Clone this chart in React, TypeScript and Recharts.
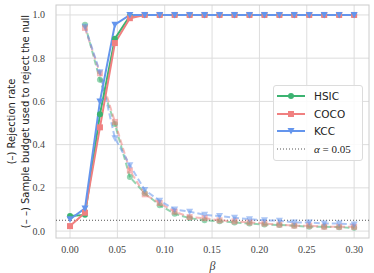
import {
  LineChart, Line, XAxis, YAxis, CartesianGrid, ReferenceLine, Label,
} from 'recharts';

const betas = [0, 0.0158, 0.0316, 0.0474, 0.0632, 0.0789, 0.0947, 0.1105, 0.1263, 0.1421,
  0.1579, 0.1737, 0.1895, 0.2053, 0.2211, 0.2368, 0.2526, 0.2684, 0.2842, 0.3];

// solid: rejection rate
const hsicRate = [0.07, 0.075, 0.54, 0.89, 0.995, 1, 1, 1, 1, 1, 1, 1, 1, 1, 1, 1, 1, 1, 1, 1];
const cocoRate = [0.023, 0.085, 0.48, 0.87, 0.985, 1, 1, 1, 1, 1, 1, 1, 1, 1, 1, 1, 1, 1, 1, 1];
const kccRate = [0.055, 0.105, 0.6, 0.955, 1, 1, 1, 1, 1, 1, 1, 1, 1, 1, 1, 1, 1, 1, 1, 1];

// dashed: sample budget used
const hsicBudget = [null, 0.955, 0.7, 0.495, 0.25, 0.175, 0.12, 0.08, 0.06, 0.05, 0.045, 0.04,
  0.035, 0.03, 0.028, 0.025, 0.02, 0.02, 0.018, 0.015];
const cocoBudget = [null, 0.94, 0.73, 0.505, 0.28, 0.17, 0.13, 0.09, 0.065, 0.06, 0.05, 0.045,
  0.04, 0.035, 0.03, 0.025, 0.025, 0.02, 0.02, 0.02];
const kccBudget = [null, 0.945, 0.735, 0.43, 0.305, 0.19, 0.14, 0.1, 0.09, 0.075, 0.07, 0.062,
  0.055, 0.05, 0.048, 0.04, 0.04, 0.035, 0.035, 0.03];

const xTicks = [0, 0.05, 0.1, 0.15, 0.2, 0.25, 0.3];
const yTicks = [0, 0.2, 0.4, 0.6, 0.8, 1.0];

const data = betas.map((x, i) => ({
  x,
  hsicR: hsicRate[i], cocoR: cocoRate[i], kccR: kccRate[i],
  hsicB: hsicBudget[i], cocoB: cocoBudget[i], kccB: kccBudget[i],
}));

const GREEN = '#3cb371';
const RED = '#f08080';
const BLUE = '#6495ed';

type Shape = 'circle' | 'square' | 'tri';

function marker(shape: Shape, cx: number, cy: number, color: string, opacity = 1, key?: string) {
  if (shape === 'circle') return <circle key={key} cx={cx} cy={cy} r={3} fill={color} fillOpacity={opacity} />;
  if (shape === 'square') return <rect key={key} x={cx - 3} y={cy - 3} width={6} height={6} fill={color} fillOpacity={opacity} />;
  return (
    <path key={key} d={`M${cx - 3.5},${cy - 3} L${cx + 3.5},${cy - 3} L${cx},${cy + 3.5} Z`} fill={color} fillOpacity={opacity} />
  );
}

const makeDot = (shape: Shape, color: string, opacity = 1) => (p: any) => {
  if (p.value == null || p.cx == null) return <g key={p.key} />;
  return marker(shape, p.cx, p.cy, color, opacity, p.key);
};

const serif = 'Liberation Serif, DejaVu Serif, serif';
const tickStyle = { fill: '#444', fontSize: 10, fontFamily: serif };

const series = [
  { key: 'hsic', name: 'HSIC', color: GREEN, shape: 'circle' as Shape },
  { key: 'coco', name: 'COCO', color: RED, shape: 'square' as Shape },
  { key: 'kcc', name: 'KCC', color: BLUE, shape: 'tri' as Shape },
];

function LegendBox() {
  return (
    <div style={{
      position: 'absolute', left: 273, top: 85, width: 88,
      border: '1px solid #dcdcdc', borderRadius: 3, background: 'rgba(255,255,255,0.85)',
      padding: '1px 0 2px 0', fontFamily: 'DejaVu Sans, sans-serif', fontSize: 10.5, color: '#222',
    }}>
      {series.map((s) => (
        <div key={s.key} style={{ display: 'flex', alignItems: 'center', height: 17.7 }}>
          <svg width={32} height={12} style={{ marginLeft: 1 }}>
            <line x1={2} x2={30} y1={6} y2={6} stroke={s.color} strokeWidth={2} />
            {marker(s.shape, 16, 6, s.color)}
          </svg>
          <span style={{ marginLeft: 7 }}>{s.name}</span>
        </div>
      ))}
      <div style={{ display: 'flex', alignItems: 'center', height: 17.7 }}>
        <svg width={32} height={12} style={{ marginLeft: 1 }}>
          <line x1={2} x2={30} y1={6} y2={6} stroke="#555" strokeWidth={1} strokeDasharray="1 2" />
        </svg>
        <span style={{ marginLeft: 7, fontFamily: serif, fontSize: 11 }}>
          <i>α</i> = 0.05
        </span>
      </div>
    </div>
  );
}

function YLabel(props: any) {
  const vb = props.viewBox || { x: 0, y: 0, width: 0, height: 0 };
  const cy = vb.y + vb.height / 2;
  const font = { fontFamily: 'DejaVu Sans, sans-serif', fontSize: 10, fill: '#222' };
  return (
    <g>
      <text x={11} y={cy} transform={`rotate(-90 11 ${cy})`} textAnchor="middle" dominantBaseline="central" {...font}>
        (–) Rejection rate
      </text>
      <text x={25} y={cy} transform={`rotate(-90 25 ${cy})`} textAnchor="middle" dominantBaseline="central" {...font}>
        (– –) Sample budget used to reject the null
      </text>
    </g>
  );
}

export default function App() {
  return (
    <div style={{ position: 'absolute', left: 0, top: 0, width: 374, height: 273, background: '#fff' }}>
      <LineChart width={374} height={273} data={data} margin={{ top: 5, right: 5, bottom: 0, left: 30 }}>
        <rect x={56} y={5} width={313} height={233} fill="none" stroke="#cccccc" strokeWidth={1} />
        <CartesianGrid stroke="#dddddd" strokeWidth={1} horizontalValues={yTicks} verticalValues={xTicks} />
        <XAxis
          dataKey="x" type="number" domain={[-0.0148, 0.3157]} ticks={xTicks} allowDataOverflow
          tickFormatter={(v: number) => v.toFixed(2)} tick={tickStyle} axisLine={false} tickLine={false}
          tickMargin={2} height={35}
        >
          <Label value="β" position="insideBottom" offset={3}
            style={{ fontFamily: serif, fontStyle: 'italic', fontSize: 12, fill: '#444' }} />
        </XAxis>
        <YAxis
          type="number" domain={[-0.032, 1.046]} ticks={yTicks} allowDataOverflow
          tickFormatter={(v: number) => v.toFixed(1)} tick={tickStyle} axisLine={false} tickLine={false}
          width={26} tickMargin={5}
        >
          <Label content={<YLabel />} />
        </YAxis>
        <ReferenceLine y={0.05} stroke="#555" strokeWidth={1} strokeDasharray="1 2" />
        {series.map((s) => (
          <Line key={s.key + 'B'} dataKey={s.key + 'B'} stroke={s.color} strokeOpacity={0.55} strokeWidth={2}
            strokeDasharray="6 3" dot={makeDot(s.shape, s.color, 0.55)} isAnimationActive={false} connectNulls={false} />
        ))}
        {series.map((s) => (
          <Line key={s.key + 'R'} dataKey={s.key + 'R'} stroke={s.color} strokeWidth={2}
            dot={makeDot(s.shape, s.color)} isAnimationActive={false} />
        ))}
      </LineChart>
      <LegendBox />
    </div>
  );
}
